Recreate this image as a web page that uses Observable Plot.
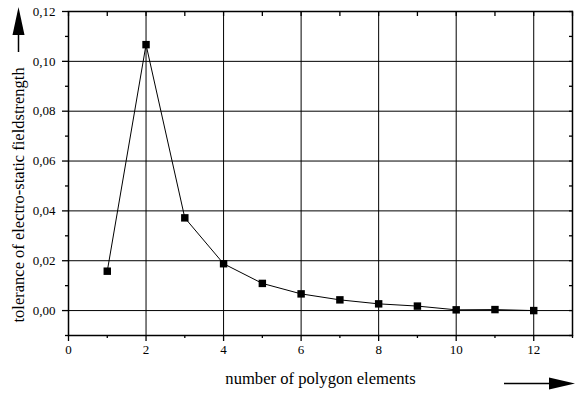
<!DOCTYPE html>
<html><head><meta charset="utf-8">
<script src="https://cdn.jsdelivr.net/npm/d3@7"></script>
<script src="https://cdn.jsdelivr.net/npm/@observablehq/plot@0.6"></script>
<style>
body{margin:0;background:#fff}
svg{display:block}
svg, svg text, svg g { font-family: "Liberation Serif", "Times New Roman", serif !important; }
</style>
</head><body><div id="chart"></div>
<script>
const elements = [1, 2, 3, 4, 5, 6, 7, 8, 9, 10, 11, 12];
const tolerance = [0.0158, 0.1067, 0.0372, 0.0188, 0.0109, 0.0067, 0.0043, 0.0027, 0.0018, 0.0003, 0.0004, 0.0000];
const xDomain = [0, 13];
const yDomain = [-0.01, 0.12];
const xMajorTicks = [0, 2, 4, 6, 8, 10, 12];
const xMinorTicks = [1, 3, 5, 7, 9, 11, 13];
const xAllTicks = [0, 1, 2, 3, 4, 5, 6, 7, 8, 9, 10, 11, 12, 13];
const yMajorTicks = [0.00, 0.02, 0.04, 0.06, 0.08, 0.10, 0.12];
const yMinorTicks = [-0.01, 0.01, 0.03, 0.05, 0.07, 0.09, 0.11];
const yAllTicks = [-0.01, 0.00, 0.01, 0.02, 0.03, 0.04, 0.05, 0.06, 0.07, 0.08, 0.09, 0.10, 0.11, 0.12];
const xGrid = [2, 4, 6, 8, 10, 12];
const yGrid = [0.00, 0.02, 0.04, 0.06, 0.08, 0.10];
const xLabel = "number of polygon elements";
const yLabel = "tolerance of electro-static fieldstrength";

const data = elements.map((e, i) => ({n: e, t: tolerance[i]}));
const fmtY = d => d3.format(".2f")(d).replace(".", ",");
const blank = () => "";
const serif = "Liberation Serif";

const chart = Plot.plot({
  width: 575,
  height: 396,
  marginLeft: 68,
  marginRight: 3,
  marginTop: 11,
  marginBottom: 61,
  style: {fontFamily: serif, fontSize: "13px", color: "black", background: "white"},
  x: {domain: xDomain, axis: null},
  y: {domain: yDomain, axis: null},
  marks: [
    Plot.gridX(xGrid, {stroke: "black", strokeOpacity: 1, strokeWidth: 1}),
    Plot.gridY(yGrid, {stroke: "black", strokeOpacity: 1, strokeWidth: 1}),
    Plot.axisX({anchor: "bottom", ticks: xMajorTicks, tickSize: 6, tickPadding: 3, tickFormat: d => String(d), label: null, fontSize: 13, fontFamily: serif, strokeWidth: 1.3}),
    Plot.axisX({anchor: "bottom", ticks: xMinorTicks, tickSize: 3, tickFormat: blank, label: null, strokeWidth: 1.3}),
    Plot.axisX({anchor: "top", ticks: xAllTicks, tickSize: 4, dy: 4, tickFormat: blank, label: null, strokeWidth: 1.3}),
    Plot.axisY({anchor: "left", ticks: yMajorTicks, tickSize: 6, tickPadding: 7, tickFormat: fmtY, label: null, fontSize: 13, fontFamily: serif, strokeWidth: 1.3}),
    Plot.axisY({anchor: "left", ticks: yMinorTicks, tickSize: 3, tickFormat: blank, label: null, strokeWidth: 1.3}),
    Plot.axisY({anchor: "right", ticks: yAllTicks, tickSize: 4, dx: -4, tickFormat: blank, label: null, strokeWidth: 1.3}),
    Plot.frame({stroke: "black", strokeWidth: 1.5}),
    Plot.line(data, {x: "n", y: "t", stroke: "black", strokeWidth: 1}),
    Plot.dot(data, {x: "n", y: "t", symbol: "square", r: 4.2, fill: "black", stroke: "none"}),
    Plot.text([xLabel], {frameAnchor: "bottom", lineAnchor: "middle", dy: 43, fontSize: 16.6, fontFamily: serif, fill: "black"}),
    Plot.text([yLabel], {frameAnchor: "bottom-left", rotate: -90, textAnchor: "start", lineAnchor: "middle", dx: -50, dy: -13, fontSize: 16.5, fontFamily: serif, fill: "black"})
  ]
});

const svg = d3.select(chart);
// decorative direction arrows
svg.append("line").attr("x1", 18.5).attr("x2", 18.5).attr("y1", 52).attr("y2", 34).attr("stroke", "black").attr("stroke-width", 1.5);
svg.append("path").attr("d", "M18.5,7 L24.5,35 L12.5,35 Z").attr("fill", "black");
svg.append("line").attr("x1", 504).attr("x2", 551).attr("y1", 383.5).attr("y2", 383.5).attr("stroke", "black").attr("stroke-width", 1.5);
svg.append("path").attr("d", "M575,383.5 L549,377.5 L549,389.5 Z").attr("fill", "black");

document.getElementById("chart").appendChild(chart);
</script>
</body></html>
